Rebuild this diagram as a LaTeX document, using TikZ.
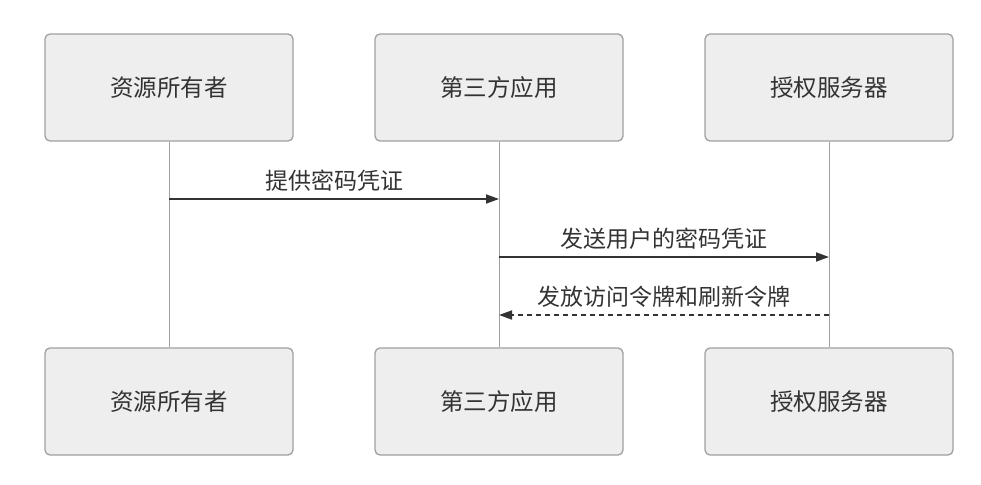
\documentclass[tikz,border=0pt]{standalone}
\usepackage{fontspec}
\setmainfont{Noto Sans CJK SC}
\usetikzlibrary{arrows.meta}
\definecolor{boxfill}{HTML}{EEEEEE}
\definecolor{boxline}{HTML}{A0A0A0}
\definecolor{arrcol}{HTML}{333333}
\begin{document}
\begin{tikzpicture}[x=1pt,y=-1pt,
  actor/.style={draw=boxline,fill=boxfill,line width=1.3pt,rounded corners=5pt,minimum width=248pt,minimum height=107pt,inner sep=0pt,font=\fontsize{23.5}{26}\selectfont,text=arrcol},
  life/.style={draw=boxline,line width=1pt},
  msg/.style={draw=arrcol,line width=1.8pt,-{Triangle[length=13pt,width=9pt]}},
  lbl/.style={font=\fontsize{23}{26}\selectfont,text=arrcol,inner sep=0pt}]
\useasboundingbox (0,0) rectangle (981,484);
\node[actor] (a1) at (169,87.5) {资源所有者};
\node[actor] (b1) at (499,87.5) {第三方应用};
\node[actor] (c1) at (829,87.5) {授权服务器};
\node[actor] (a2) at (169,401.5) {资源所有者};
\node[actor] (b2) at (499,401.5) {第三方应用};
\node[actor] (c2) at (829,401.5) {授权服务器};
\draw[life] (a1) -- (a2);
\draw[life] (b1) -- (b2);
\draw[life] (c1) -- (c2);
\coordinate (p1) at (169,199); \coordinate (q1) at (499,199);
\coordinate (p2) at (499,257); \coordinate (q2) at (829,257);
\coordinate (p3) at (829,315); \coordinate (q3) at (499,315);
\draw[msg] (p1) -- (q1);
\draw[msg] (p2) -- (q2);
\draw[msg,dash pattern=on 5pt off 4pt] (p3) -- (q3);
\node[lbl] (l1) at (334,181) {提供密码凭证};
\node[lbl] (l2) at (664,239) {发送用户的密码凭证};
\node[lbl] (l3) at (664,297) {发放访问令牌和刷新令牌};
\end{tikzpicture}
\end{document}
